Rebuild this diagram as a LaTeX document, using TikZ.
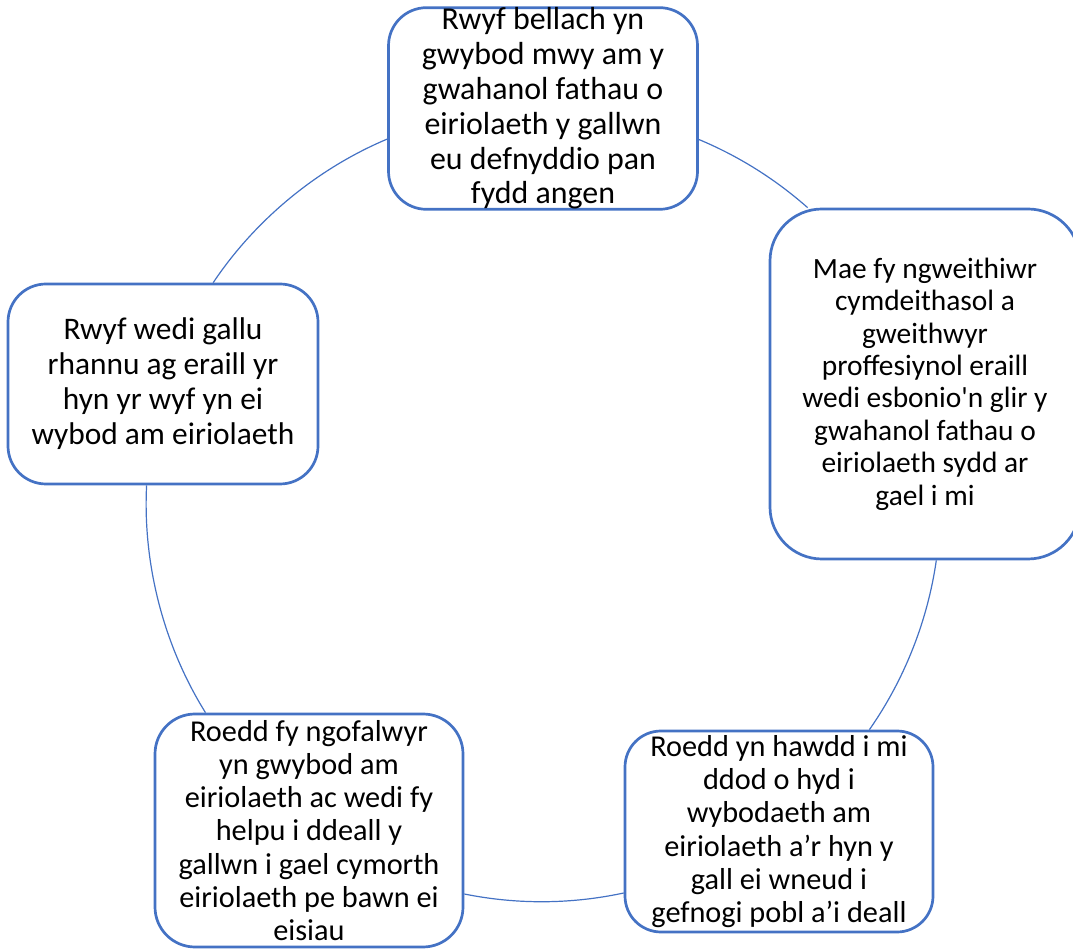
\documentclass[tikz,border=0pt]{standalone}
\usepackage{fontspec}
\setmainfont{Carlito}
\definecolor{cycleblue}{HTML}{4472C4}

\begin{document}
\begin{tikzpicture}[x=1pt,y=1pt,
  stage/.style={draw=cycleblue,line width=2.7pt,fill=white,rounded corners=38pt,
    inner sep=0pt,align=center,text=black},
  link/.style={cycleblue,line width=1.2pt,looseness=0.86}]
 \useasboundingbox (0,0) rectangle (1073,948);

 \node[stage,minimum width=309pt,minimum height=201pt,
   font=\fontsize{31.9}{34.8}\selectfont] (know) at (543,839.5)
   {Rwyf bellach yn\\gwybod mwy am y\\gwahanol fathau o\\eiriolaeth y gallwn\\eu defnyddio pan\\fydd angen};
 \node[stage,minimum width=310pt,minimum height=350pt,rounded corners=52pt,
   font=\fontsize{29.4}{32.4}\selectfont] (worker) at (925,564)
   {Mae fy ngweithiwr\\cymdeithasol a\\gweithwyr\\proffesiynol eraill\\wedi esbonio\textquotesingle n glir y\\gwahanol fathau o\\eiriolaeth sydd ar\\gael i mi};
 \node[stage,minimum width=308pt,minimum height=201pt,rounded corners=36pt,
   font=\fontsize{30.3}{33.3}\selectfont] (easy) at (779,116.5)
   {Roedd yn hawdd i mi\\ddod o hyd i\\wybodaeth am\\eiriolaeth a’r hyn y\\gall ei wneud i\\gefnogi pobl a’i deall};
 \node[stage,minimum width=308pt,minimum height=233pt,rounded corners=40pt,
   font=\fontsize{30.3}{33.3}\selectfont] (carers) at (309,117.5)
   {Roedd fy ngofalwyr\\yn gwybod am\\eiriolaeth ac wedi fy\\helpu i ddeall y\\gallwn i gael cymorth\\eiriolaeth pe bawn ei\\eisiau};
 \node[stage,minimum width=310pt,minimum height=200pt,
   font=\fontsize{31.4}{35}\selectfont] (share) at (163,564)
   {Rwyf wedi gallu\\rhannu ag eraill yr\\hyn yr wyf yn ei\\wybod am eiriolaeth};

 % arcs round the cycle
 \draw[link] ([yshift=-31pt]know.east) to[bend left=9.4] ([xshift=-117.4pt]worker.north);
 \draw[link] ([xshift=11.3pt]worker.south) to[bend left=13.4] ([xshift=90.4pt]easy.north);
 \draw[link] ([yshift=-61.5pt]easy.west) to[bend left=11.8] ([yshift=-63.5pt]carers.east);
 \draw[link] ([xshift=-103.5pt]carers.north) to[bend left=17.4] ([xshift=-16.4pt]share.south);
 \draw[link] ([xshift=50.2pt]share.north) to[bend left=16.7] ([yshift=-30.6pt]know.west);
\end{tikzpicture}
\end{document}
